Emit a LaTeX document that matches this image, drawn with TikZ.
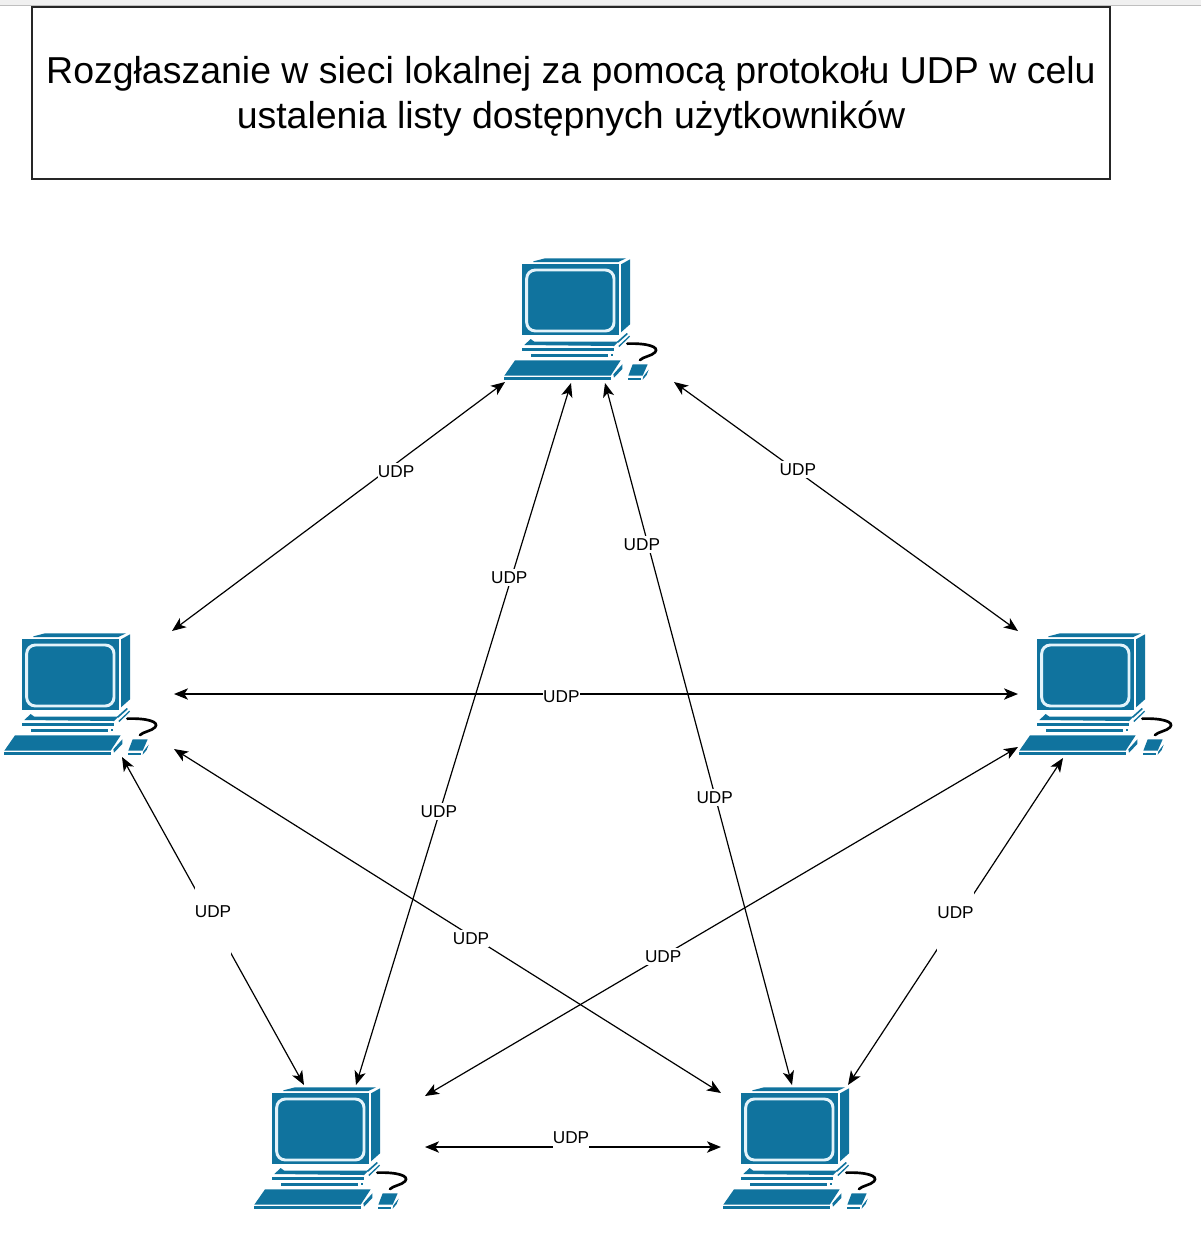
\documentclass[tikz,border=0pt]{standalone}
\usepackage{fontspec}
\setmainfont{Liberation Sans}
\usetikzlibrary{arrows.meta}
\definecolor{pcblue}{HTML}{10739E}
\definecolor{pcline}{HTML}{E4F3FA}
\tikzset{
  px/.style={x=0.75pt,y=-0.75pt},
  conn/.style={{Stealth[length=10.5pt,width=8.5pt,inset=2.8pt]}-{Stealth[length=10.5pt,width=8.5pt,inset=2.8pt]},line width=0.9pt,black},
  lab/.style={fill=white,inner sep=0pt,minimum width=27pt,minimum height=13pt,font=\fontsize{12.9pt}{14pt}\selectfont,text=black},
  tall/.style={lab,minimum height=54pt},
  titletext/.style={inner sep=0pt,align=center,font=\fontsize{28.1pt}{34pt}\selectfont},
  titlerect/.style={draw=black!85,line width=0.95pt},
  pcbox/.style={inner sep=0pt,minimum width=116pt,minimum height=92pt},
  pcpart/.style={fill=pcblue,draw=none},
  pc/.pic={
    \begin{scope}[x=0.25pt,y=-0.25pt]
      \fill[pcpart] (130,49)--(165,40)--(408,40)--(385,51)--(130,51)--cycle;
      \fill[pcpart] (97,58) rectangle (387,270);
      \draw[fill=pcblue,line width=2.2pt,rounded corners=6.5pt,draw=pcline] (110,75) rectangle (372,258);
      \fill[pcpart] (393,58)--(420,43)--(420,238)--(393,262)--cycle;
      \fill[pcpart] (381,290)--(410,264)--(414,267)--(385,293)--cycle;
      \fill[pcpart] (385,303)--(418,272)--(420,275)--(388,306)--cycle;
      \fill[pcpart] (103,300)--(122,282)--(133,290)--(385,290)--(372,303)--cycle;
      \fill[pcpart] (97,310) rectangle (372,317);
      \fill[pcpart] (123,326) rectangle (355,335);
      \fill[pcpart] (363,327) rectangle (369,333);
      \fill[pcpart] (75,346)--(392,346)--(362,392)--(43,392)--cycle;
      \fill[pcpart] (42,397) rectangle (362,405);
      \fill[pcpart] (370,388)--(397,358)--(397,372)--(372,398)--cycle;
      \fill[pcpart] (428,358)--(473,358)--(458,392)--(415,392)--cycle;
      \fill[pcpart] (413,399) rectangle (453,405);
      \fill[pcpart] (460,394)--(476,374)--(470,390)--(458,404)--cycle;
      \draw[black,line width=2pt,line cap=round] (412,296) .. controls (470,294) and (510,305) .. (495,322) .. controls (485,333) and (460,335) .. (450,345);
    \end{scope}
  }
}
\begin{document}
\begin{tikzpicture}[px]
  \useasboundingbox (0,0) rectangle (1201,1233);
  \fill[black!6] (0,0) rectangle (1201,4.5);
  \fill[black!25] (0,4.5) rectangle (1201,5.7);
  \draw[titlerect] (32,7) rectangle (1110,179);
  \node[titletext] (title) at (571,96) {Rozgłaszanie w sieci lokalnej za pomocą protokołu UDP w celu\\ustalenia listy dostępnych użytkowników};

  \pic at (490,245) {pc};
  \pic at (-10,620) {pc};
  \pic at (1005,620) {pc};
  \pic at (240,1074) {pc};
  \pic at (709,1074) {pc};
  \node[pcbox] (top) at (581,320) {};
  \node[pcbox] (left) at (81,694) {};
  \node[pcbox] (right) at (1096,694) {};
  \node[pcbox] (bl) at (331,1148) {};
  \node[pcbox] (br) at (800,1148) {};

  \coordinate (t1) at (505,382);
  \coordinate (t2) at (571,383);
  \coordinate (t3) at (605,383);
  \coordinate (t4) at (674,382);
  \coordinate (l1) at (172,631);
  \coordinate (l2) at (174,694);
  \coordinate (l3) at (174,749);
  \coordinate (l4) at (122,757);
  \coordinate (r1) at (1018,631);
  \coordinate (r2) at (1018,694);
  \coordinate (r3) at (1018,747);
  \coordinate (r4) at (1063,758);
  \coordinate (a1) at (304,1085);
  \coordinate (a2) at (356,1085);
  \coordinate (a3) at (425,1096);
  \coordinate (a4) at (425,1147);
  \coordinate (b1) at (721,1093);
  \coordinate (b2) at (721,1147);
  \coordinate (b3) at (792,1085);
  \coordinate (b4) at (848,1085);

  \draw[conn] (t1) -- node[lab,pos=.327,yshift=-6pt] (u1) {UDP} (l1);
  \draw[conn] (t2) -- node[lab,pos=.276,xshift=-1.8pt,yshift=-.75pt] (u2) {UDP} node[lab,pos=.61,xshift=-.75pt] (u3) {UDP} (a2);
  \draw[conn] (t3) -- node[lab,pos=.229,xshift=-4.5pt,yshift=-.75pt] (u4) {UDP} node[lab,pos=.59,xshift=-.5pt] (u5) {UDP} (b3);
  \draw[conn] (t4) -- node[lab,pos=.36,yshift=1.5pt] (u6) {UDP} (r1);
  \draw[conn] (l2) -- node[lab,pos=.459,yshift=-1.8pt,minimum height=9pt] (u7) {UDP} (r2);
  \draw[conn] (l3) -- node[lab,pos=.543,yshift=-2.2pt] (u8) {UDP} (b1);
  \draw[conn] (r3) -- node[lab,pos=.60,xshift=.75pt] (u9) {UDP} (a3);
  \draw[conn] (l4) -- node[tall,pos=.5] (u10) {\raisebox{14pt}{UDP}} (a1);
  \draw[conn] (r4) -- node[tall,pos=.5] (u11) {\raisebox{14pt}{UDP}} (b4);
  \draw[conn] (a4) -- node[lab,pos=.5,xshift=-1.5pt,yshift=6pt,minimum height=19pt] (u12) {\raisebox{1.6pt}{UDP}} (b2);
\end{tikzpicture}
\end{document}
